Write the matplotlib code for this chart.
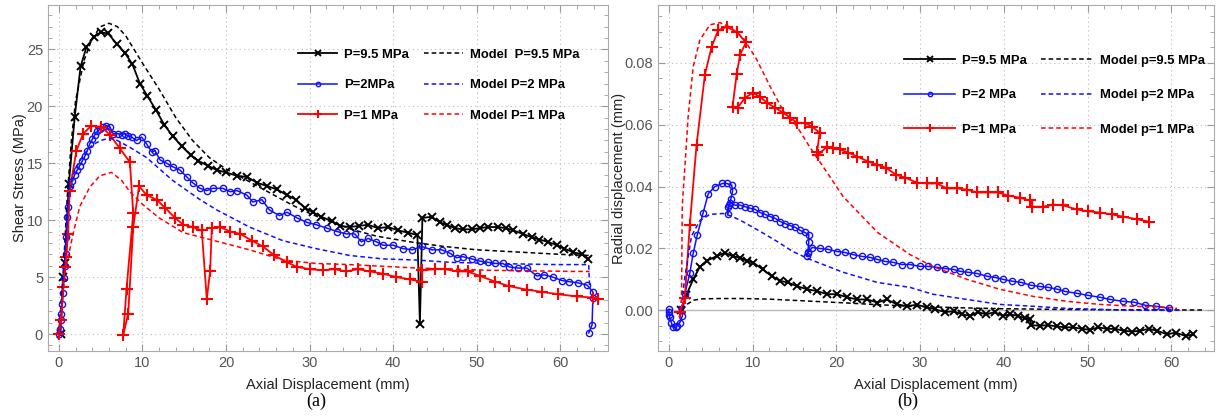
import numpy as np
import matplotlib
matplotlib.use('Agg')
import matplotlib.pyplot as plt
from matplotlib.ticker import MultipleLocator

plt.rcParams['font.family'] = ['Liberation Sans', 'DejaVu Sans']

# ---- (a) shear stress vs axial displacement ----
a_x95 = [0.2, 0.5, 0.7, 1.2, 1.9, 2.6, 3.3, 4.2, 5.0, 5.9, 6.9, 7.9, 8.8, 9.7, 10.6, 11.6, 12.6, 13.6, 14.7,
         15.8, 16.7, 17.8, 18.9, 20.0, 21.3, 22.5, 23.7, 24.9, 26.1, 27.3, 28.4, 29.4, 30.4, 31.4, 32.7, 33.7,
         34.8, 35.9, 37.0, 38.2, 39.4, 40.6, 41.8, 42.9, 43.2, 43.5, 44.6, 45.6, 46.4, 47.4, 48.3, 49.4, 50.4,
         51.3, 52.5, 53.5, 54.4, 55.5, 56.6, 57.5, 58.5, 59.6, 60.5, 61.5, 62.6, 63.3]
a_y95 = [0.0, 5.0, 6.2, 13.2, 19.1, 23.5, 25.2, 26.1, 26.5, 26.4, 25.5, 24.7, 23.7, 22.0, 20.9, 19.7, 18.4, 17.4,
         16.5, 15.7, 15.2, 14.8, 14.4, 14.2, 13.9, 13.8, 13.3, 13.0, 12.7, 12.2, 11.8, 11.1, 10.7, 10.3, 9.9, 9.5,
         9.4, 9.5, 9.6, 9.3, 9.4, 9.1, 8.9, 8.7, 0.9, 10.2, 10.3, 9.8, 9.6, 9.3, 9.2, 9.2, 9.3, 9.4, 9.4, 9.3, 9.1,
         8.8, 8.5, 8.3, 8.1, 7.8, 7.5, 7.2, 7.0, 6.6]

a_x2 = [0.0, 0.1, 0.2, 0.3, 0.4, 0.5, 0.6, 0.7, 0.8, 0.9, 1.0, 1.1, 1.3, 1.6, 1.9, 2.2, 2.5, 2.8, 3.1, 3.4, 3.7,
        4.0, 4.3, 4.6, 4.9, 5.3, 5.7, 6.1, 6.5, 7.1, 7.5, 7.9, 8.3, 8.7, 9.3, 9.9, 10.5, 11.1, 11.5, 12.1, 12.9,
        13.6, 14.5, 15.3, 16.0, 16.9, 17.7, 18.4, 19.6, 20.5, 21.3, 22.5, 23.2, 24.3, 25.2, 26.4, 27.3, 28.5,
        29.7, 30.8, 32.1, 33.3, 34.4, 35.4, 36.2, 37.0, 38.0, 38.8, 40.0, 41.2, 42.3, 43.4, 44.6, 45.8, 46.8,
        47.6, 48.3, 49.4, 50.4, 51.4, 52.2, 53.1, 53.9, 54.9, 56.0, 57.2, 58.1, 59.1, 60.2, 61.1, 62.1, 63.2,
        63.9, 63.9, 63.8, 63.4]
a_y2 = [0.0, 0.4, 1.2, 1.8, 2.6, 3.6, 4.9, 6.0, 7.0, 8.5, 10.3, 11.2, 13.0, 13.4, 14.0, 14.4, 14.8, 15.2, 15.6,
        16.1, 16.7, 17.1, 17.5, 17.8, 18.0, 18.2, 18.3, 18.2, 17.6, 17.6, 17.5, 17.6, 17.4, 17.3, 17.0, 17.3,
        16.7, 16.0, 16.1, 15.3, 15.0, 14.7, 14.4, 13.8, 13.3, 12.8, 12.6, 12.8, 12.8, 12.5, 12.6, 12.2, 11.6,
        11.8, 10.9, 10.4, 10.7, 10.2, 9.8, 9.6, 9.3, 9.0, 8.8, 8.8, 8.1, 8.4, 8.1, 7.8, 7.8, 7.5, 7.4, 7.7, 7.4,
        7.4, 7.1, 6.7, 6.8, 6.6, 6.4, 6.3, 6.2, 6.2, 5.9, 5.8, 5.8, 5.1, 5.2, 5.0, 4.7, 4.6, 4.5, 4.3, 3.7, 3.2,
        0.8, 0.1]

a_x1 = [0.0, 0.3, 0.5, 0.7, 0.9, 1.1, 1.3, 2.1, 2.9, 3.9, 5.1, 6.1, 7.3, 8.5, 8.9, 8.1, 7.7, 8.3, 8.9, 9.6,
        10.5, 11.7, 12.7, 13.9, 14.9, 16.0, 17.1, 17.7, 18.1, 18.3, 19.3, 20.5, 21.7, 23.1, 24.4, 25.8, 27.3,
        28.5, 30.0, 31.6, 33.0, 34.4, 35.8, 37.2, 38.8, 40.4, 42.0, 43.4, 43.5, 45.0, 46.2, 47.7, 48.9, 50.4,
        52.2, 53.9, 56.0, 57.8, 59.7, 62.0, 63.9, 64.5]
a_y1 = [0.0, 1.2, 4.1, 5.9, 6.8, 8.8, 12.6, 16.1, 17.6, 18.3, 18.2, 17.5, 16.3, 15.1, 10.6, 4.0, -0.1, 1.8, 9.4,
        13.0, 12.2, 11.8, 11.1, 10.2, 9.6, 9.4, 9.1, 3.1, 5.5, 9.3, 9.4, 9.0, 8.8, 8.2, 7.7, 6.9, 6.3, 5.9, 5.7,
        5.6, 5.7, 5.5, 5.7, 5.5, 5.3, 5.0, 4.8, 4.6, 5.6, 5.7, 5.7, 5.5, 5.5, 5.1, 4.6, 4.2, 3.9, 3.7, 3.5, 3.3,
        3.2, 3.1]

a_mx95 = [0.0, 0.5, 1.0, 1.5, 2.0, 3.0, 4.0, 5.0, 6.0, 7.0, 8.0, 9.0, 10.0, 12.0, 14.0, 16.0, 18.0, 20.0, 22.0,
          24.0, 26.0, 28.0, 30.0, 32.0, 35.0, 38.0, 42.0, 46.0, 50.0, 55.0, 60.0, 63.5]
a_my95 = [0.0, 5.0, 12.0, 17.0, 20.5, 24.0, 26.0, 27.0, 27.3, 27.0, 26.2, 25.0, 23.8, 21.5, 19.0, 17.0, 15.5,
          14.5, 13.7, 12.9, 12.1, 11.3, 10.6, 10.0, 9.2, 8.6, 8.1, 7.7, 7.4, 7.2, 7.0, 6.9]

a_mx2 = [0.0, 0.5, 1.0, 1.3, 2.0, 3.0, 4.0, 5.0, 6.0, 7.0, 8.5, 10.5, 13.6, 16.9, 18.9, 22.8, 26.8, 30.8, 34.8,
         38.8, 42.8, 46.8, 51.6, 59.5, 63.4, 63.5]
a_my2 = [0.0, 4.5, 10.5, 13.0, 14.6, 15.8, 16.6, 17.0, 17.2, 17.0, 16.4, 15.5, 13.5, 11.8, 10.9, 9.4, 8.2, 7.5,
         6.9, 6.6, 6.5, 6.3, 6.2, 6.1, 6.1, 4.2]

a_mx1 = [0.0, 0.5, 0.8, 1.1, 1.7, 2.5, 3.7, 4.9, 6.3, 7.5, 8.5, 10.0, 12.0, 14.9, 18.1, 22.8, 26.8, 30.8, 34.8,
         42.8, 51.6, 61.5, 63.5]
a_my1 = [0.0, 3.5, 5.8, 6.7, 8.8, 11.2, 12.9, 13.9, 14.2, 13.5, 12.5, 11.4, 10.2, 8.9, 8.3, 7.4, 6.5, 6.2, 6.1,
         5.8, 5.6, 5.5, 5.5]

# ---- (b) radial displacement vs axial displacement ----
b_x95 = [1.4, 2.1, 2.9, 3.7, 4.5, 5.7, 6.7, 7.6, 8.5, 9.3, 10.1, 11.2, 12.3, 13.3, 14.2, 15.3, 16.5, 17.7, 18.9,
         20.1, 21.3, 22.5, 23.7, 24.9, 26.0, 27.2, 28.4, 29.6, 30.8, 31.8, 33.0, 34.0, 35.0, 36.0, 36.9, 37.9,
         38.9, 39.9, 40.7, 41.7, 42.5, 43.1, 43.3, 44.3, 45.3, 46.3, 47.3, 48.3, 49.3, 50.3, 51.3, 52.3, 53.3,
         54.3, 55.3, 56.3, 57.3, 58.3, 59.5, 60.5, 61.7, 62.6]
b_y95 = [0.0, 0.005, 0.010, 0.014, 0.016, 0.0175, 0.0186, 0.0175, 0.017, 0.016, 0.0154, 0.0132, 0.011, 0.0095,
         0.009, 0.0078, 0.0068, 0.0062, 0.0052, 0.0052, 0.0042, 0.0035, 0.0035, 0.0025, 0.0035, 0.002, 0.0013,
         0.0018, 0.001, 0.0003, -0.0006, -0.0003, -0.0013, -0.0018, -0.0006, -0.0013, -0.0006, -0.0018, -0.0013,
         -0.0018, -0.0026, -0.0029, -0.0048, -0.005, -0.0048, -0.0052, -0.0055, -0.0055, -0.006, -0.0063,
         -0.0055, -0.006, -0.006, -0.0066, -0.0069, -0.0066, -0.006, -0.0066, -0.0078, -0.0072, -0.0083, -0.0078]

b_x2 = [0.0, 0.0, 0.05, 0.1, 0.3, 0.5, 0.8, 1.0, 1.3, 1.6, 1.9, 2.5, 2.9, 3.4, 4.1, 4.7, 5.5, 6.4, 6.9, 7.5, 7.6,
        7.4, 7.2, 7.0, 7.1, 7.3, 7.9, 8.5, 9.1, 9.7, 10.3, 10.9, 11.5, 12.1, 12.7, 13.3, 13.9, 14.5, 15.1, 15.7,
        16.2, 16.7, 16.7, 16.6, 16.5, 16.6, 17.1, 18.0, 19.0, 20.1, 21.0, 22.0, 23.1, 24.0, 24.8, 25.8, 26.8,
        27.8, 28.8, 30.0, 30.9, 32.0, 33.0, 34.0, 34.8, 35.7, 36.8, 38.0, 39.0, 39.9, 41.0, 42.1, 43.2, 44.3,
        45.3, 46.4, 47.3, 48.7, 50.1, 51.5, 52.7, 54.2, 55.6, 56.9, 58.2, 59.7]
b_y2 = [0.0003, -0.0006, -0.0015, -0.0023, -0.004, -0.0055, -0.0055, -0.005, -0.004, -0.0019, 0.0052, 0.012,
        0.0184, 0.0245, 0.0316, 0.0377, 0.040, 0.041, 0.041, 0.0405, 0.0385, 0.036, 0.034, 0.031, 0.0335,
        0.0348, 0.034, 0.034, 0.0335, 0.033, 0.0326, 0.0316, 0.031, 0.0303, 0.0297, 0.0287, 0.028, 0.0274,
        0.0268, 0.0258, 0.0252, 0.0245, 0.022, 0.019, 0.0174, 0.0185, 0.0203, 0.020, 0.0197, 0.019, 0.0187,
        0.018, 0.0174, 0.0171, 0.0165, 0.0158, 0.0155, 0.0148, 0.0148, 0.0142, 0.0142, 0.0139, 0.0135, 0.0132,
        0.0126, 0.0123, 0.0119, 0.011, 0.0106, 0.010, 0.0094, 0.009, 0.0081, 0.0077, 0.0074, 0.0068, 0.0061,
        0.0055, 0.0048, 0.0042, 0.0035, 0.0029, 0.0026, 0.0016, 0.0013, 0.0006]

b_x1 = [1.3, 1.9, 2.5, 3.3, 4.3, 5.1, 5.9, 6.9, 8.1, 9.2, 8.5, 8.1, 7.6, 8.2, 9.1, 10.0, 10.9, 11.7, 12.7, 13.6,
        14.5, 15.3, 16.2, 17.1, 18.0, 17.7, 17.8, 18.9, 19.6, 20.4, 21.4, 22.5, 23.8, 24.8, 25.9, 27.1, 28.2,
        29.6, 30.8, 32.0, 33.2, 34.4, 35.6, 36.8, 38.1, 39.3, 40.5, 41.9, 43.1, 43.4, 44.7, 45.9, 47.1, 48.7,
        50.1, 51.5, 52.9, 54.2, 55.9, 57.3]
b_y1 = [-0.0006, 0.0039, 0.0277, 0.0534, 0.0762, 0.0852, 0.0906, 0.0916, 0.090, 0.0866, 0.0826, 0.0765, 0.0658,
        0.0655, 0.0687, 0.0703, 0.069, 0.0671, 0.0655, 0.0639, 0.0623, 0.0606, 0.0606, 0.0594, 0.0574, 0.0513,
        0.0503, 0.0529, 0.0526, 0.052, 0.051, 0.0497, 0.0481, 0.0471, 0.0461, 0.0439, 0.0429, 0.0413, 0.041,
        0.041, 0.0394, 0.0394, 0.039, 0.0381, 0.0381, 0.0381, 0.0371, 0.0364, 0.0355, 0.0335, 0.0335, 0.0342,
        0.0339, 0.0326, 0.032, 0.0316, 0.031, 0.0303, 0.0294, 0.0287]

b_mx95 = [1.6, 2.2, 3.0, 4.0, 6.0, 9.0, 12.0, 15.0, 18.0, 21.0, 25.0, 30.0, 35.0, 40.0, 50.0, 60.0, 64.0]
b_my95 = [0.0, 0.002, 0.0033, 0.0037, 0.0038, 0.0038, 0.0036, 0.0032, 0.0028, 0.0024, 0.0018, 0.0012, 0.0008,
          0.0005, 0.0002, 0.0001, 0.0001]

b_mx2 = [1.2, 1.6, 1.9, 2.7, 3.7, 4.9, 6.5, 7.6, 8.8, 10.9, 12.9, 14.8, 16.8, 20.8, 24.9, 28.8, 31.5, 35.6, 39.5,
         43.5, 47.5, 51.5, 55.4, 61.0]
b_my2 = [0.0, 0.004, 0.0106, 0.024, 0.029, 0.031, 0.0313, 0.0303, 0.0287, 0.0255, 0.0223, 0.019, 0.0165, 0.0123,
         0.009, 0.0074, 0.0052, 0.0035, 0.0019, 0.0013, 0.0006, 0.0003, 0.0, 0.0]

b_mx1 = [1.5, 1.6, 1.9, 2.3, 2.9, 3.7, 4.9, 6.1, 7.3, 8.9, 10.5, 12.1, 13.6, 15.3, 16.8, 18.9, 20.8, 24.9, 28.8,
         31.5, 35.6, 39.5, 43.5, 47.5, 51.5, 55.4, 59.5, 60.7]
b_my1 = [0.0, 0.034, 0.046, 0.0626, 0.0787, 0.0874, 0.0923, 0.093, 0.0916, 0.088, 0.081, 0.0723, 0.0648, 0.0594,
         0.0529, 0.0445, 0.0368, 0.0252, 0.018, 0.0142, 0.010, 0.0068, 0.0045, 0.0029, 0.0019, 0.0013, 0.001,
         0.0006]

labels_a = ['P=9.5 MPa', 'P=2MPa', 'P=1 MPa', 'Model  P=9.5 MPa', 'Model P=2 MPa', 'Model P=1 MPa']
labels_b = ['P=9.5 MPa', 'P=2 MPa', 'P=1 MPa', 'Model p=9.5 MPa', 'Model p=2 MPa', 'Model p=1 MPa']

fig = plt.figure(figsize=(12.21, 4.18), dpi=100)
ax1 = fig.add_axes([0.0393, 0.160, 0.4586, 0.828])
ax2 = fig.add_axes([0.5389, 0.160, 0.4554, 0.828])

red = '#ff0000'
blue = '#1010ff'


def draw(ax, exps, models, labels, spacing, hlen, anchor):
    (x95, y95), (x2, y2), (x1, y1) = exps
    ax.plot(x95, y95, color='black', lw=1.3, marker='x', ms=6, mew=1.4, label=labels[0])
    ax.plot(x2, y2, color=blue, lw=1.1, marker='o', ms=4.5, mfc='none', mew=1.0, label=labels[1])
    ax.plot(x1, y1, color=red, lw=1.3, marker='+', ms=9, mew=1.5, label=labels[2])
    cols = ['black', blue, red]
    for (mx, my), c, lab in zip(models, cols, labels[3:]):
        ax.plot(mx, my, color=c, lw=1.1, ls=(0, (3, 2)), label=lab)
    ax.grid(True, ls=(0, (1, 3)), color='#bbbbbb', lw=0.8)
    ax.xaxis.set_major_locator(MultipleLocator(10))
    ax.xaxis.set_minor_locator(MultipleLocator(2))
    ax.tick_params(which='both', direction='in', top=True, right=True, colors='#999999',
                   labelcolor='#555555', labelsize=10.5)
    ax.tick_params(which='major', length=5)
    ax.tick_params(which='minor', length=3)
    for s in ax.spines.values():
        s.set_color('#aaaaaa')
    ax.set_xlabel('Axial Displacement (mm)', fontsize=10.5, color='#222222', labelpad=6)
    ax.legend(ncol=2, frameon=False, loc='upper right', bbox_to_anchor=anchor,
              handlelength=hlen, handletextpad=0.55, columnspacing=1.1, labelspacing=spacing,
              prop={'weight': 'bold', 'size': 9.4}, markerscale=0.7)


draw(ax1, [(a_x95, a_y95), (a_x2, a_y2), (a_x1, a_y1)],
     [(a_mx95, a_my95), (a_mx2, a_my2), (a_mx1, a_my1)], labels_a, 1.4, 3.0, (0.970, 0.908))
ax1.set_xlim(-1.3, 65.7)
ax1.set_ylim(-1.5, 28.9)
ax1.yaxis.set_major_locator(MultipleLocator(5))
ax1.yaxis.set_minor_locator(MultipleLocator(1))
ax1.set_ylabel('Shear Stress (MPa)', fontsize=10.5, color='#222222', labelpad=0)

ax2.axhline(0, color='#bbbbbb', lw=1.0, zorder=0)
draw(ax2, [(b_x95, b_y95), (b_x2, b_y2), (b_x1, b_y1)],
     [(b_mx95, b_my95), (b_mx2, b_my2), (b_mx1, b_my1)], labels_b, 1.7, 3.9, (1.004, 0.890))
ax2.set_xlim(-1.3, 65.1)
ax2.set_ylim(-0.0132, 0.0987)
ax2.yaxis.set_major_locator(MultipleLocator(0.02))
ax2.yaxis.set_minor_locator(MultipleLocator(0.005))
ax2.yaxis.set_major_formatter(matplotlib.ticker.FormatStrFormatter('%.2f'))
ax2.set_ylabel('Radial displacement (mm)', fontsize=10.5, color='#222222', labelpad=-1)

fig.text(0.2588, 0.03, '(a)', ha='center', fontsize=13, family=['Liberation Serif', 'DejaVu Serif'])
fig.text(0.7437, 0.03, '(b)', ha='center', fontsize=13, family=['Liberation Serif', 'DejaVu Serif'])

fig.savefig('out.png', dpi=100)
